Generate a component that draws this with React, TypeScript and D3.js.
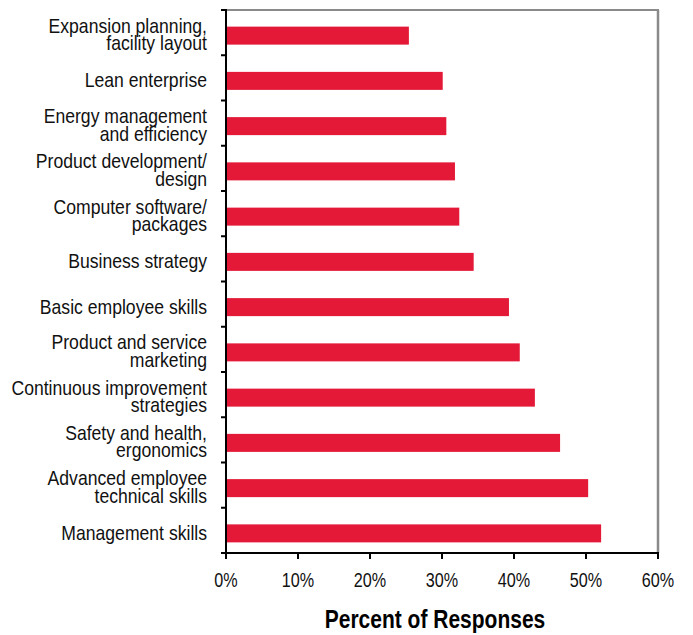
import React from "react";
import * as d3 from "d3";

const categories: string[][] = [
  ["Expansion planning,", "facility layout"],
  ["Lean enterprise"],
  ["Energy management", "and efficiency"],
  ["Product development/", "design"],
  ["Computer software/", "packages"],
  ["Business strategy"],
  ["Basic employee skills"],
  ["Product and service", "marketing"],
  ["Continuous improvement", "strategies"],
  ["Safety and health,", "ergonomics"],
  ["Advanced employee", "technical skills"],
  ["Management skills"],
];
const values: number[] = [25.4, 30.1, 30.6, 31.8, 32.4, 34.4, 39.3, 40.8, 42.9, 46.4, 50.3, 52.1];
const xTicks: number[] = [0, 10, 20, 30, 40, 50, 60];
const xTitle = "Percent of Responses";

const W = 693;
const H = 635;
const M = { left: 226, right: 658, top: 10, bottom: 553 };
const FONT = "'Liberation Sans', Arial, sans-serif";

export default function App() {
  const x = d3.scaleLinear().domain([0, 60]).range([M.left, M.right]);
  const keys = categories.map((_, i) => String(i));
  const y = d3.scaleBand().domain(keys).range([M.top, M.bottom]).paddingInner(0).paddingOuter(0);
  const bw = y.bandwidth();
  const barH = 18;
  const bandEdges = d3.range(categories.length + 1).map((i) => M.top + i * bw);
  const center = (i: number) => (y(String(i)) as number) + bw / 2 + 3;

  return (
    <svg width={W} height={H} style={{ position: "absolute", left: 0, top: 0, background: "#fff" }}>
      {/* frame top and right (gray) */}
      <line x1={M.left} x2={M.right + 1} y1={M.top} y2={M.top} stroke="#8a8a8a" strokeWidth={2} />
      <line x1={M.right} x2={M.right} y1={M.top} y2={M.bottom} stroke="#8a8a8a" strokeWidth={2.5} />
      {/* bars */}
      {values.map((v, i) => (
        <rect
          key={i}
          x={x(0)}
          y={center(i) - barH / 2}
          width={x(v) - x(0)}
          height={barH}
          fill="#e31937"
        />
      ))}
      {/* left axis */}
      <line x1={M.left} x2={M.left} y1={M.top - 1} y2={M.bottom} stroke="#000" strokeWidth={2} />
      {bandEdges.map((yy, i) => (
        <line key={i} x1={M.left - 5} x2={M.left} y1={yy} y2={yy} stroke="#000" strokeWidth={2} />
      ))}
      {/* bottom axis */}
      <line x1={M.left - 1} x2={M.right + 1} y1={M.bottom} y2={M.bottom} stroke="#000" strokeWidth={2} />
      {xTicks.map((t) => (
        <g key={t}>
          <line x1={x(t)} x2={x(t)} y1={M.bottom} y2={M.bottom + 6} stroke="#000" strokeWidth={2} />
          <text
            transform={`translate(${x(t)},${M.bottom + 34}) scale(0.77,1)`}
            textAnchor="middle"
            fontFamily={FONT}
            fontSize={21}
            fill="#111"
          >
            {t}%
          </text>
        </g>
      ))}
      {/* category labels */}
      {categories.map((lines, i) => {
        const cy = center(i);
        const lh = 17.5;
        const start = lines.length === 1 ? cy + 6.5 : cy - 3;
        return (
          <text
            key={i}
            transform={`translate(207,0) scale(0.88,1)`}
            textAnchor="end"
            fontFamily={FONT}
            fontSize={20}
            fill="#111"
          >
            {lines.map((l, j) => (
              <tspan key={j} x={0} y={start + j * lh}>
                {l}
              </tspan>
            ))}
          </text>
        );
      })}
      <text
        transform={`translate(435,628) scale(0.84,1)`}
        textAnchor="middle"
        fontFamily={FONT}
        fontSize={25}
        fontWeight="bold"
        fill="#000"
      >
        {xTitle}
      </text>
    </svg>
  );
}
